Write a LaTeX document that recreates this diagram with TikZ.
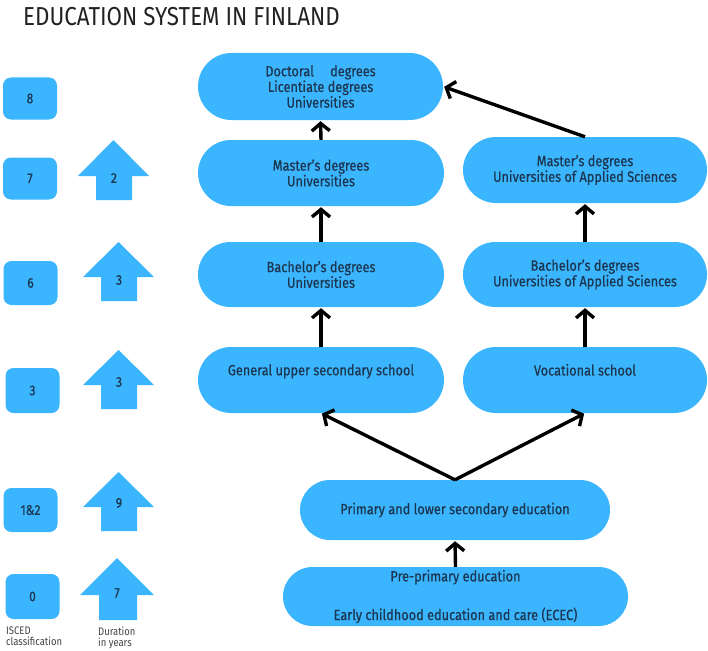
\documentclass[tikz,border=0pt]{standalone}
\usepackage{fontspec}
\setmainfont{Fira Sans}[FakeStretch=0.86]
\newfontfamily\medfont{Fira Sans}[FakeStretch=0.86,FakeBold=0.5]
\usetikzlibrary{arrows.meta,shapes.misc}
\definecolor{boxblue}{HTML}{3BB5FD}
\definecolor{boxtext}{HTML}{1C3550}
\definecolor{titlegray}{HTML}{222222}
\tikzset{
  pill/.style={rounded rectangle, fill=boxblue, draw=none, text=boxtext, align=center,
    inner sep=0pt, font=\medfont\fontsize{14.8}{14.5}\selectfont},
  isced/.style={rectangle, rounded corners=8pt, fill=boxblue, text=boxtext,
    minimum width=54pt, minimum height=42pt, inner sep=0pt, font=\medfont\fontsize{14}{14}\selectfont},
  house/.style={fill=boxblue, draw=none},
  durlabel/.style={text=boxtext, inner sep=0pt, font=\medfont\fontsize{14}{14}\selectfont},
  arr/.style={line width=3.4pt, -{Straight Barb[length=7.5pt,width=18pt,line width=3.4pt]}, shorten >=1pt},
  note/.style={text=titlegray!85, align=left, anchor=north west, inner sep=0pt, font=\fontsize{11}{10.5}\selectfont}
}
\begin{document}
\begin{tikzpicture}[x=1pt,y=-1pt]
\useasboundingbox (0,0) rectangle (708,650);
% title
\node[anchor=base west, inner sep=0pt, text=titlegray, font=\fontsize{26}{28}\selectfont] (title) at (23,26) {EDUCATION SYSTEM IN FINLAND};

% ISCED boxes
\node[isced] (i8) at (30,98.5) {8};
\node[isced] (i7) at (30,178.5) {7};
\node[isced, minimum height=44pt] (i6) at (30.5,283) {6};
\node[isced, minimum height=45pt] (i3) at (32.5,390.5) {3};
\node[isced, minimum height=44pt] (i12) at (30.5,510) {1\&2};
\node[isced, minimum height=45pt] (i0) at (32.5,596.5) {0};

% duration arrows
\fill[house] (113.5,140) -- (149,176) -- (132,176) -- (132,200) -- (96,200) -- (96,176) -- (78,176) -- cycle;
\fill[house] (118.5,242) -- (154,277) -- (137,277) -- (137,301) -- (101,301) -- (101,277) -- (83,277) -- cycle;
\fill[house] (118.5,350) -- (154,385) -- (137,385) -- (137,409) -- (101,409) -- (101,385) -- (83,385) -- cycle;
\fill[house] (118.5,472) -- (154,507) -- (137,507) -- (137,531) -- (101,531) -- (101,507) -- (83,507) -- cycle;
\fill[house] (117,558) -- (154,595) -- (137,595) -- (137,620) -- (99,620) -- (99,595) -- (80,595) -- cycle;
\node[durlabel] (d2) at (114,178) {2};
\node[durlabel] (d3a) at (119,280) {3};
\node[durlabel] (d3b) at (119,382) {3};
\node[durlabel] (d9) at (119,503) {9};
\node[durlabel] (d7) at (117,593) {7};

% bottom notes
\node[note] (n1) at (6,627) {ISCED\\classification};
\node[note] (n2) at (98,627) {Duration\\in years};

% main boxes
\node[pill, minimum width=245pt, minimum height=67pt] (doc) at (320.5,86.5)
  {Doctoral\hspace{1.1em}degrees\\Licentiate degrees\\Universities};
\node[pill, minimum width=246pt, minimum height=66pt] (mu) at (321,173) {Master’s degrees\\Universities};
\node[pill, minimum width=244pt, minimum height=66pt] (muas) at (585,170) {Master’s degrees\\Universities of Applied Sciences};
\node[pill, minimum width=246pt, minimum height=65pt] (bu) at (321,274.5) {Bachelor’s degrees\\Universities};
\node[pill, minimum width=244pt, minimum height=65pt] (buas) at (585,274.5) {Bachelor’s degrees\\Universities of Applied Sciences};
\node[pill, minimum width=246pt, minimum height=66pt] (gen) at (321,380) {General upper secondary school\\[6pt]\mbox{}};
\node[pill, minimum width=244pt, minimum height=66pt] (voc) at (585,380) {Vocational school\\[6pt]\mbox{}};
\node[pill, minimum width=310pt, minimum height=60pt] (prim) at (455,510) {Primary and lower secondary education};
\node[pill, minimum width=345pt, minimum height=59pt] (pre) at (455.5,596.5)
  {Pre-primary education\\[22pt]Early childhood education and care (ECEC)};

% connectors
\draw[arr] (mu.north) -- (doc.south);
\draw[arr] (bu.north) -- (mu.south);
\draw[arr] (gen.north) -- (bu.south);
\draw[arr] (buas.north) -- (muas.south);
\draw[arr] (voc.north) -- (buas.south);
\draw[arr] (muas.north) -- (doc.east);
\draw[arr] (prim.north) -- (gen.south);
\draw[arr] (prim.north) -- (voc.south);
\draw[arr] (pre.north) -- (prim.south);
\end{tikzpicture}
\end{document}
